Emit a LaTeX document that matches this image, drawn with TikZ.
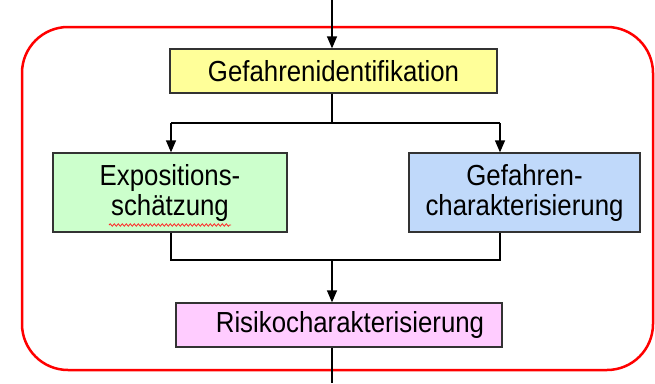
\documentclass[tikz,border=0pt]{standalone}
\usepackage{fontspec}
\setmainfont{Liberation Sans}[FakeStretch=0.89]
\usepackage{tikz}
\usetikzlibrary{arrows.meta, decorations.pathmorphing, calc}
\definecolor{identfill}{RGB}{255,255,153}
\definecolor{expofill}{RGB}{204,255,204}
\definecolor{charfill}{RGB}{192,217,250}
\definecolor{riskfill}{RGB}{255,204,255}
\tikzstyle{stepbox} = [rectangle, inner sep=0pt, align=center, draw=black!80, line width=1.3pt, font=\fontsize{29}{30}\selectfont]
\tikzstyle{arrow} = [-{Triangle[length=12pt, width=10pt]}, line width=1.3pt]
\tikzstyle{link} = [line width=1.3pt]

\begin{document}
\begin{tikzpicture}[x=1pt, y=-1pt]
\useasboundingbox (0,0) rectangle (655,383);
% frame
\draw [red, line width=2.5pt, rounded corners=46pt] (22,27) rectangle (653,370);
\node (ident) [stepbox, fill=identfill, minimum width=327pt, minimum height=44pt] at (333.5,71) {Gefahrenidentifikation};
\node (expo) [stepbox, fill=expofill, minimum width=234pt, minimum height=79pt] at (170,192.5) {Expositions-\\sch\"atzung};
\node (char) [stepbox, fill=charfill, minimum width=231pt, minimum height=79pt] at (524.5,192.5) {Gefahren-\\charakterisierung};
\node (risk) [stepbox, fill=riskfill, minimum width=326pt, minimum height=44pt] at (339,325) {\hspace*{22pt}Risikocharakterisierung};
\coordinate (in) at (332,0);
\coordinate (out) at (332,383);
\coordinate (bl) at (171,123);
\coordinate (br) at (500,123);
\coordinate (jl) at (171,260);
\coordinate (jr) at (500,260);
\draw [arrow] (in) -- (in |- ident.north);
\draw [link] (in |- ident.south) -- (in |- bl);
\draw [link] (bl) -- (br);
\draw [arrow] (bl) -- (bl |- expo.north);
\draw [arrow] (br) -- (br |- char.north);
\draw [link] (bl |- expo.south) -- (jl) -- (jr) -- (br |- char.south);
\draw [arrow] (in |- jl) -- (in |- risk.north);
\draw [link] (in |- risk.south) -- (out);
% spelling mark
\draw [red!85, line width=0.8pt, decorate, decoration={snake, amplitude=1.2pt, segment length=4pt}] (109,225) -- (231,225);
\end{tikzpicture}
\end{document}
